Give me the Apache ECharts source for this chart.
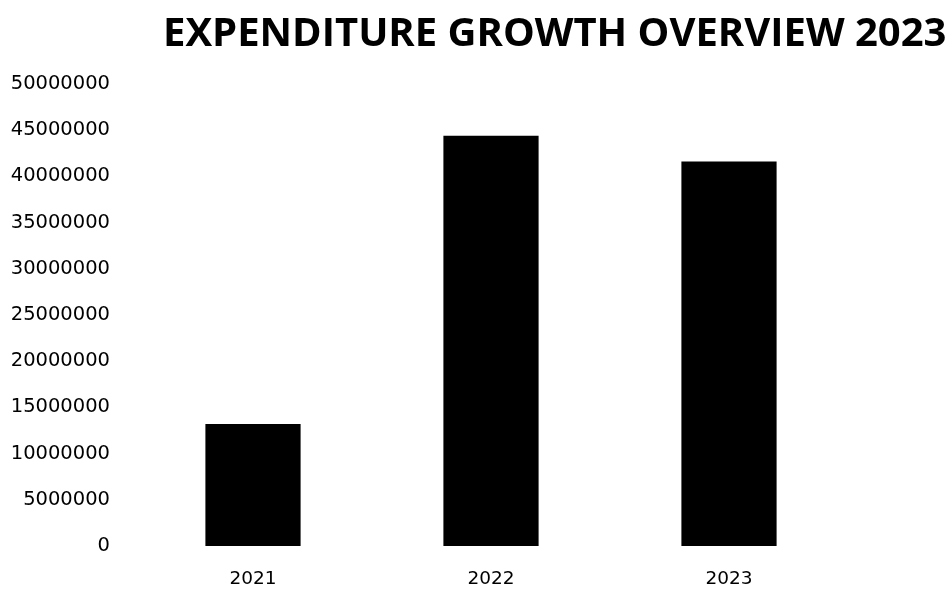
<!DOCTYPE html>
<html>
<head>
<meta charset="utf-8">
<script src="https://cdn.jsdelivr.net/npm/echarts@6/dist/echarts.min.js"></script>
<style>
  html, body { margin: 0; padding: 0; background: #fff; }
  #chart { width: 950px; height: 594px; }
</style>
</head>
<body>
<div id="chart"></div>
<script>
// Annual expenditure totals
const years = ['2021', '2022', '2023'];
const expenditure = [13200000, 44400000, 41600000];
const yTicks = { min: 0, max: 50000000, interval: 5000000 };

const chart = echarts.init(document.getElementById('chart'));
chart.setOption({
  backgroundColor: '#ffffff',
  animation: false,
  title: {
    text: 'EXPENDITURE GROWTH OVERVIEW 2023',
    left: 158,
    top: 10,
    textStyle: {
      fontFamily: 'Open Sans',
      fontWeight: 'bold',
      fontSize: 40,
      color: '#000'
    }
  },
  grid: { left: 134, right: 102, top: 84, bottom: 48 },
  xAxis: {
    type: 'category',
    data: years,
    axisLine: { show: false },
    axisTick: { show: false },
    axisLabel: {
      margin: 24,
      fontFamily: 'DejaVu Sans',
      fontSize: 18.5,
      color: '#000'
    }
  },
  yAxis: {
    type: 'value',
    min: yTicks.min,
    max: yTicks.max,
    interval: yTicks.interval,
    splitLine: { show: false },
    axisLine: { show: false },
    axisTick: { show: false },
    axisLabel: {
      margin: 24,
      fontFamily: 'DejaVu Sans',
      fontSize: 19.5,
      color: '#000',
      formatter: v => String(v)
    }
  },
  series: [{
    type: 'bar',
    data: expenditure,
    barWidth: '40%',
    itemStyle: { color: '#000' }
  }]
});
</script>
</body>
</html>
